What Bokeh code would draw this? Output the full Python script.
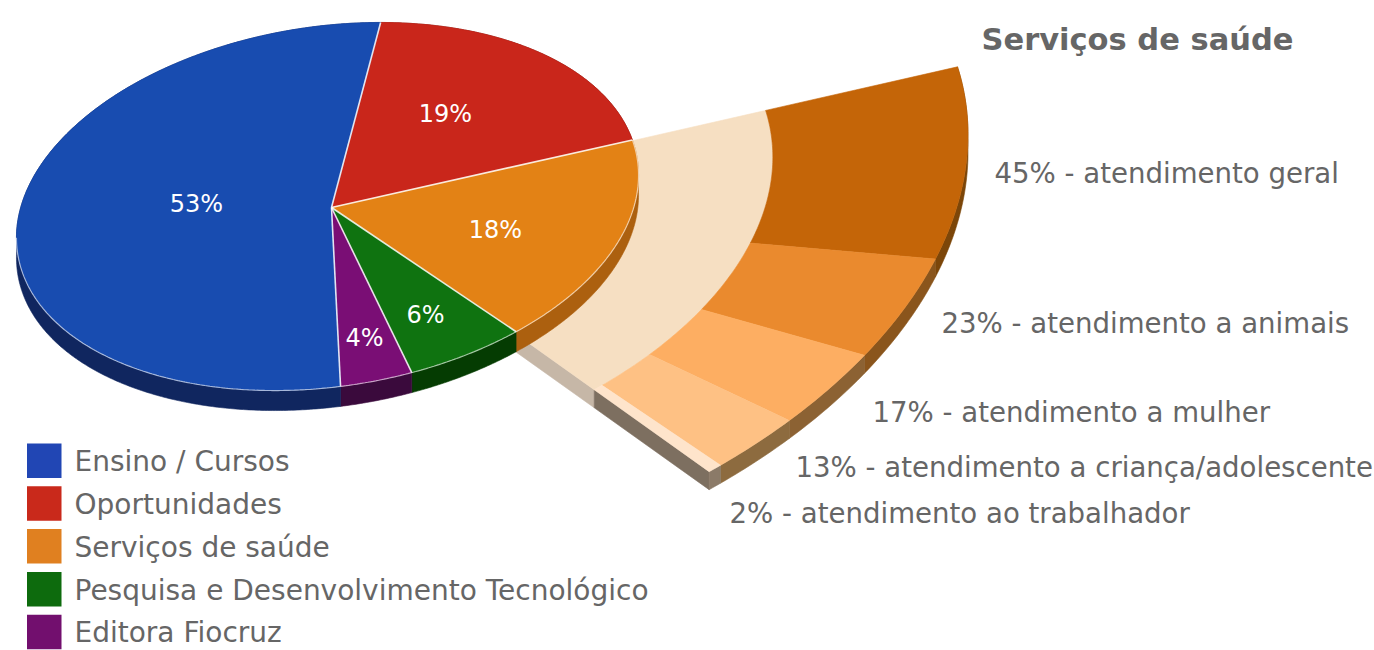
import numpy as np
from bokeh.plotting import figure
from bokeh.core.properties import value
from bokeh.embed import file_html
from bokeh.resources import INLINE

# ---- data ----
categories = ["Ensino / Cursos", "Oportunidades", "Serviços de saúde",
              "Pesquisa e Desenvolvimento Tecnológico", "Editora Fiocruz"]
shares = [53.4, 19.1, 17.8, 6.0, 3.7]
labels = ["53%", "19%", "18%", "6%", "4%"]
top_colors = ["#184cb0", "#c9261b", "#e38215", "#0f7310", "#7a0e75"]
wall_colors = ["#10265f", "#6e140e", "#ac600f", "#053c02", "#3a0a3c"]
legend_colors = ["#2146b4", "#c9291b", "#e08020", "#0d6b0d", "#720f6e"]

sub_names = ["atendimento geral", "atendimento a animais", "atendimento a mulher",
             "atendimento a criança/adolescente", "atendimento ao trabalhador"]
sub_values = [45, 23, 17, 13, 2]
sub_top = ["#c46508", "#ea8a2e", "#fdae62", "#fec184", "#fee4cb"]
sub_wall = ["#7c4609", "#8a551c", "#8c6233", "#8d6b3f", "#8b7a68"]
title = "Serviços de saúde"

# ---- layout ----
W, H = 1374, 650
FONT = "DejaVu Sans"
GREY = "#666666"

MAIN = dict(cx=327.0, cy=206.0, a=313.4, b=180.0, rot=np.radians(8.6))
FAN = dict(cx=338.0, cy=207.0, a=636.0, b=376.0, rot=np.radians(10.2))
MAIN_HUB = (331.0, 207.0)
MAIN_START = 14.8            # where "Oportunidades" begins
FAN_START, FAN_SPAN = 85.6, 64.4
MAIN_DEPTH, FAN_DEPTH = 20.0, 18.0
FAN_HOLE, FAN_PIE = 0.69, 0.473
PALE, PALE_SIDE, DARK_SIDE = "#f6dfc2", "#c6b7a7", "#7d6f60"
FRONT_END = 275.0            # the pale rim stops here on the left of the pie

PCT_POS = [(196, 203), (445, 113), (495, 229), (425, 314), (364, 337)]
SUB_POS = [(994, 173), (941, 323), (872, 412), (795, 467), (729, 513)]


def ell(e, t_deg, k=1.0):
    t = np.radians(np.asarray(t_deg, dtype=float))
    s, c = np.sin(t) * e["a"] * k, -np.cos(t) * e["b"] * k
    ux, uy = np.cos(e["rot"]), -np.sin(e["rot"])
    vx, vy = np.sin(e["rot"]), np.cos(e["rot"])
    return e["cx"] + s * ux + c * vx, e["cy"] + s * uy + c * vy


def arc(e, t0, t1, k=1.0):
    return ell(e, np.linspace(t0, t1, max(int(abs(t1 - t0)), 2) * 2), k)


def wall(e, t0, t1, depth, k=1.0):
    x, y = arc(e, t0, t1, k)
    return list(x) + list(x[::-1]), list(y) + list(y[::-1] + depth)


p = figure(width=W, height=H, x_range=(0, W), y_range=(H, 0),
           x_axis_type=None, y_axis_type=None, toolbar_location=None,
           output_backend="svg", min_border=0, outline_line_color=None,
           background_fill_color="white", border_fill_color="white")
p.grid.visible = False


def poly(x, y, fill):
    p.patch(list(x), list(y), fill_color=fill, line_color=fill, line_width=0.6)


# ---- exploded fan ----
ratio = FAN_SPAN / sum(sub_values)
edges = FAN_START + np.cumsum([0] + sub_values) * ratio
fan_end = edges[-1]

x0, y0 = ell(FAN, fan_end, FAN_PIE)
x1, y1 = ell(FAN, fan_end, FAN_HOLE)
x2, y2 = ell(FAN, fan_end, 1.0)
poly([x0, x1, x1, x0], [y0, y1, y1 + FAN_DEPTH, y0 + FAN_DEPTH], PALE_SIDE)
poly([x1, x2, x2, x1], [y1, y2, y2 + FAN_DEPTH, y1 + FAN_DEPTH], DARK_SIDE)

for i in range(len(sub_values)):
    wx, wy = wall(FAN, edges[i], edges[i + 1], FAN_DEPTH)
    poly(wx, wy, sub_wall[i])

ix, iy = arc(FAN, FAN_START, fan_end, FAN_HOLE)
px, py = arc(FAN, FAN_START, fan_end, 0.45)
poly(list(ix) + list(px[::-1]), list(iy) + list(py[::-1]), PALE)

for i in range(len(sub_values)):
    ox, oy = arc(FAN, edges[i], edges[i + 1], 1.0)
    ix, iy = arc(FAN, edges[i], edges[i + 1], FAN_HOLE)
    poly(list(ox) + list(ix[::-1]), list(oy) + list(iy[::-1]), sub_top[i])

# ---- main pie (clockwise from the top, Ensino last) ----
order = [1, 2, 3, 4, 0]
t = MAIN_START
bounds = {}
for i in order:
    bounds[i] = (t, t + shares[i] * 3.6)
    t = bounds[i][1]

for i in order:
    wx, wy = wall(MAIN, bounds[i][0], bounds[i][1], MAIN_DEPTH)
    poly(wx, wy, wall_colors[i])
for i in order:
    ax, ay = arc(MAIN, bounds[i][0], bounds[i][1])
    poly([MAIN_HUB[0]] + list(ax), [MAIN_HUB[1]] + list(ay), top_colors[i])

# thin white separators between slices, and the rim along the front of the pie
for i in order:
    ex, ey = ell(MAIN, bounds[i][0])
    p.line([MAIN_HUB[0], float(ex)], [MAIN_HUB[1], float(ey)],
           line_color="white", line_width=1.6, line_alpha=0.85)
front_start = bounds[2][0]
rx, ry = arc(MAIN, front_start, FRONT_END)
p.line(list(rx), list(ry), line_color="white", line_width=1.2, line_alpha=0.6)

# ---- texts ----
p.text(x=[q[0] for q in PCT_POS], y=[q[1] for q in PCT_POS], text=labels,
       text_color="white", text_font=value(FONT), text_font_size="24px",
       text_align="center", text_baseline="middle")

sub_text = [f"{v}% - {n}" for v, n in zip(sub_values, sub_names)]
p.text(x=[q[0] for q in SUB_POS], y=[q[1] for q in SUB_POS], text=sub_text,
       text_color=GREY, text_font=value(FONT), text_font_size="27.6px",
       text_align="left", text_baseline="middle")

p.text(x=[981], y=[39], text=[title], text_color=GREY, text_font=value(FONT),
       text_font_style="bold", text_font_size="30.5px",
       text_align="left", text_baseline="middle")

# ---- legend ----
LEG_X, LEG_Y, LEG_STEP, LEG_SIZE, LEG_TX = 26.5, 443.0, 42.8, 34.5, 74
tops = [LEG_Y + i * LEG_STEP for i in range(len(categories))]
p.quad(left=[LEG_X] * 5, right=[LEG_X + LEG_SIZE] * 5, top=tops,
       bottom=[v + LEG_SIZE for v in tops], fill_color=legend_colors, line_color=None)
p.text(x=[LEG_TX] * 5, y=[v + LEG_SIZE / 2 + 1 for v in tops], text=categories,
       text_color=GREY, text_font=value(FONT), text_font_size="28px",
       text_align="left", text_baseline="middle")

open("out.html", "w").write(file_html(p, INLINE))
